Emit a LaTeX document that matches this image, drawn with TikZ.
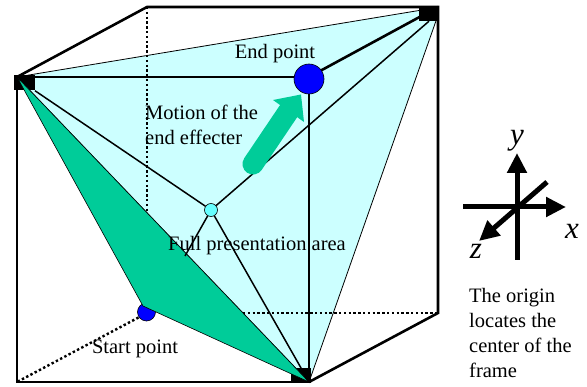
\documentclass[tikz,border=0pt]{standalone}
\usepackage{fontspec}
\setmainfont{Liberation Serif}
\usetikzlibrary{arrows.meta,backgrounds}
\definecolor{areacyan}{HTML}{CCFFFF}
\definecolor{pathgreen}{HTML}{00CC99}
\definecolor{midcyan}{HTML}{66FFFF}
\tikzset{
  >=Stealth,
  edgeline/.style={line width=2.6pt},
  hidden/.style={line width=2.4pt,dash pattern=on 2.4pt off 2.4pt},
  thinline/.style={line width=1.5pt},
  corner/.style={rectangle,fill=black,inner sep=0pt,minimum width=20.5pt,minimum height=15pt},
  ptdot/.style={circle,draw,line width=0.6pt,fill=blue,inner sep=0pt},
  lbl/.style={font=\fontsize{20.5}{25}\selectfont,inner sep=0pt},
  axis/.style={line width=5pt,-{Triangle[length=20pt,width=19pt]}},
  axlbl/.style={font=\fontsize{31}{31}\selectfont\itshape,inner sep=0pt},
}

\begin{document}
\begin{tikzpicture}[x=1pt,y=-1pt]
    \useasboundingbox (0,0) rectangle (587,387);

    % cube corners
    \coordinate (FTL) at (17,77);
    \coordinate (FTR) at (309,77);
    \coordinate (FBR) at (309,382);
    \coordinate (FBL) at (17,382);
    \coordinate (BTL) at (147,7);
    \coordinate (BTR) at (438,7);
    \coordinate (BBR) at (438,313);
    \coordinate (BBL) at (147,313);
    \coordinate (HID) at (243,313);

    % presentation area
    \fill[areacyan,draw=black,line width=0.8pt] (FTL) -- (422,10) -- (437,18) -- (FBR) -- cycle;

    \draw[hidden] (BTL) -- (BBL);
    \draw[hidden] (BBL) -- (FBL);
    \draw[hidden] (HID) -- (BBR);

    \node[ptdot,minimum size=18pt] (START) at (146.5,312) {};

    \node[corner] (CTL) at (24.5,83) {};
    \node[corner] (CTR) at (429,13.5) {};
    \node[corner] (CBR) at (301,375.5) {};

    % motion plane
    \fill[pathgreen,draw=black,line width=0.6pt] (FTL) -- (143,306) -- (FBR) -- cycle;

    \node[ptdot,fill=midcyan,minimum size=13pt] (MID) at (211,210) {};
    \coordinate (LOW) at (185,256);
    \path[thinline,draw] (CTL.south east) -- (MID);
    \path[thinline,draw] (CTR.south) -- (MID);
    \path[thinline,draw] (MID) -- (FBR);
    \path[thinline,draw] (MID) -- (LOW);

    % cube edges
    \draw[edgeline] (FBL) -- (FTL) -- (FTR) -- (FBR) -- cycle;
    \draw[edgeline] (FTL) -- (BTL) -- (BTR) -- (BBR) -- (FBR);
    \draw[edgeline] (FTR) -- (BTR);

    \node[ptdot,minimum size=30pt] (END) at (309,79) {};

    % green arrow
    \coordinate (TAIL) at (253,164);
    \coordinate (NECK) at (288,112);
    \draw[pathgreen,line width=21pt,line cap=round] (TAIL) -- (NECK);
    \fill[pathgreen] (273,100) -- (301,94.5) -- (304,122) -- cycle;

    % labels
    \node[lbl,anchor=base] (ENDL) at (275,59) {End point};
    \node[lbl,anchor=base west,align=left] (MOTL) at (145,145) {Motion of the\\end effecter};
    \node[lbl,anchor=base] (FULL) at (257,251) {Full presentation area};
    \node[lbl,anchor=base] (STARTL) at (135,354) {Start point};
    \node[lbl,anchor=base west,align=left] (NOTE) at (469,378) {The origin\\locates the\\center of the\\frame};

    % axes
    \coordinate (YA) at (517,260);
    \coordinate (YB) at (517,153);
    \coordinate (XA) at (463,207);
    \coordinate (XB) at (566,207);
    \coordinate (ZA) at (547,182);
    \coordinate (ZB) at (479,241);
    \draw[axis] (YA) -- (YB);
    \draw[axis] (XA) -- (XB);
    \draw[axis] (ZA) -- (ZB);
    \node[axlbl] (YL) at (517,141) {y};
    \node[axlbl] (XL) at (572,231) {x};
    \node[axlbl] (ZL) at (476,251) {z};
\end{tikzpicture}
\end{document}
